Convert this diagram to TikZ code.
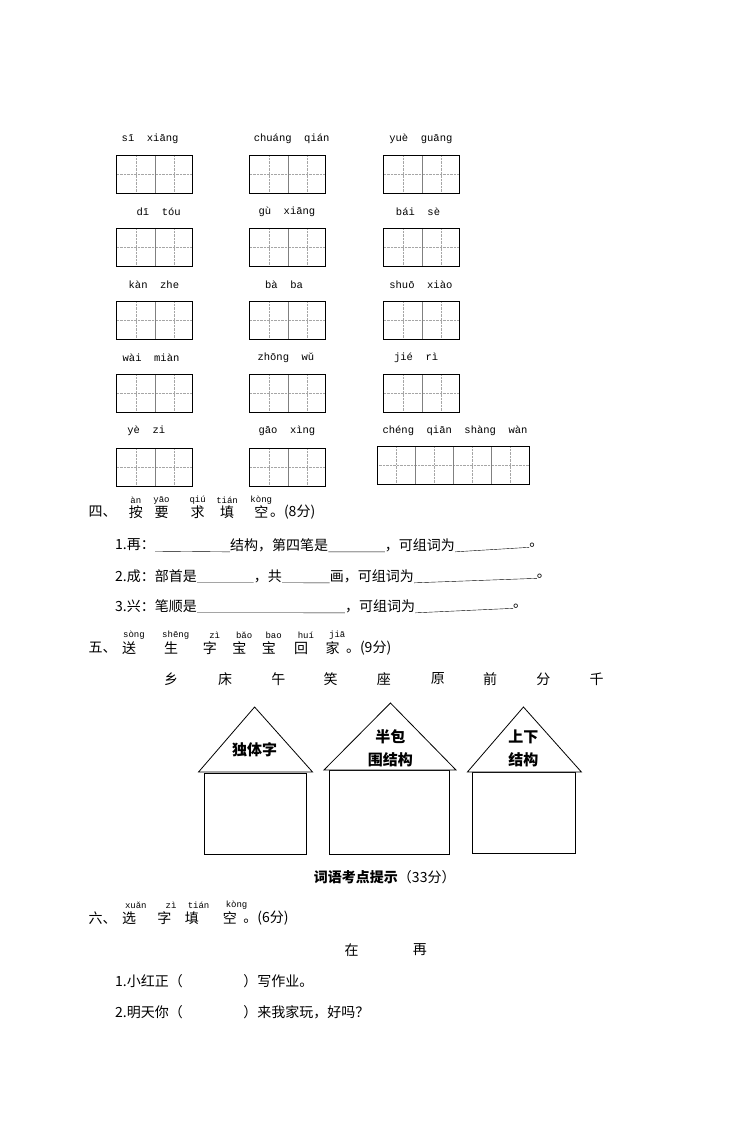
\documentclass[tikz,border=0pt]{standalone}
\usepackage{fontspec}
\usepackage{tikz}
\newfontfamily\cjk{Noto Sans CJK SC}
\newfontfamily\py{Liberation Mono}
\newcommand{\tzg}[3]{% x, y, cells
  \draw[gray!70, densely dotted] (#1,#2+19)--++(40*#3,0);
  \foreach \k in {1,...,#3}{
    \draw[gray!70, densely dotted] (#1+40*\k-20,#2)--++(0,38);
  }
  \foreach \k in {1,...,#3}{
    \ifnum\k<#3 \draw[gray] (#1+40*\k,#2)--++(0,38);\fi
  }
  \draw[black, thick] (#1,#2) rectangle ++(40*#3,38);
}
\begin{document}
\begin{tikzpicture}[x=0.95pt,y=-1pt,
  txt/.style={inner sep=0pt, anchor=west, font=\cjk\fontsize{14}{14}\selectfont},
  pin/.style={inner sep=0pt, font=\py\fontsize{10.5}{10.5}\selectfont},
  roof/.style={draw=black, thick, fill=white},
  wall/.style={draw=black, thick}]

\useasboundingbox (0,0) rectangle (794,1123);

% tianzige
\foreach \row in {155,228,301,374}{
  \tzg{123}{\row}{2}
  \tzg{263}{\row}{2}
  \tzg{404}{\row}{2}
}
\tzg{123}{448}{2}
\tzg{263}{448}{2}
\tzg{397}{446}{4}

\node[pin] (p_11) at (158,139) {sī~~xiāng};
\node[pin] (p_12) at (307,139) {chuáng~~qián};
\node[pin] (p_13) at (443,139) {yuè~~guāng};
\node[pin] (p_21) at (167,212) {dī~~tóu};
\node[pin] (p_22) at (302,212) {gù~~xiāng};
\node[pin] (p_23) at (440,212) {bái~~sè};
\node[pin] (p_31) at (162,285) {kàn~~zhe};
\node[pin] (p_32) at (299,285) {bà~~ba};
\node[pin] (p_33) at (443,285) {shuō~~xiào};
\node[pin] (p_41) at (159,358) {wài~~miàn};
\node[pin] (p_42) at (301,358) {zhōng~~wǔ};
\node[pin] (p_43) at (438,358) {jié~~rì};
\node[pin] (p_51) at (154,431) {yè~~zi};
\node[pin] (p_52) at (302,431) {gāo~~xìng};
\node[pin] (p_53) at (479,431) {chéng~~qiān~~shàng~~wàn};

% part four
\node[txt] (h4) at (93,512) {四、};
\foreach \c/\x/\p in {按/136/àn, 要/163/yāo, 求/201/qiú, 填/232/tián, 空/268/kòng}{
  \node[txt, anchor=center] (h4_\x) at (\x+7,512) {\c};
  \node[pin, font=\py\fontsize{9}{9}\selectfont] (h4p_\x) at (\x+7,500) {\p};
}
\node[txt] (h4e) at (284,512) {。(8分)};

\node[txt] (q1a) at (121,545) {1.再：};
\node[txt] (q1b) at (242,545) {结构，第四笔是};
\node[txt] (q1c) at (405,545) {，可组词为};
\node[txt] (q1d) at (557,545) {。};
\draw (q1a.south east) -- (q1b.south west);
\draw (q1b.south east) -- (q1c.south west);
\draw (q1c.south east) -- (q1d.south west);

\node[txt] (q2a) at (121,576) {2.成：部首是};
\node[txt] (q2b) at (267,576) {，共};
\node[txt] (q2c) at (347,576) {画，可组词为};
\node[txt] (q2d) at (565,576) {。};
\draw (q2a.south east) -- (q2b.south west);
\draw (q2b.south east) -- (q2c.south west);
\draw (q2c.south east) -- (q2d.south west);

\node[txt] (q3a) at (121,606) {3.兴：笔顺是};
\node[txt] (q3b) at (363,606) {，可组词为};
\node[txt] (q3c) at (540,606) {。};
\draw (q3a.south east) -- (q3b.south west);
\draw (q3b.south east) -- (q3c.south west);

% part five
\node[txt] (h5) at (93,648) {五、};
\foreach \c/\x/\p in {送/136/sòng, 生/180/shēng, 字/221/zì, 宝/252/bǎo, 宝/283/bao, 回/317/huí, 家/350/jiā}{
  \node[txt, anchor=center] (h5_\x) at (\x,648) {\c};
  \node[pin, font=\py\fontsize{9}{9}\selectfont] (h5p_\x) at (\x+5,635) {\p};
}
\node[txt] (h5e) at (364,648) {。(9分)};

\foreach \c/\x in {乡/180, 床/237, 午/293, 笑/348, 座/404, 原/461, 前/516, 分/572, 千/628}{
  \node[txt, anchor=center] (ch_\x) at (\x,679) {\c};
}

% houses
\draw[wall] (215,773) rectangle (323,854);
\draw[roof] (209,772) -- (268,707) -- (329,772) -- cycle;
\node[txt, anchor=center, font=\cjk\bfseries\fontsize{15}{15}\selectfont] (house_1) at (268,750) {独体字};

\draw[wall] (347,770) rectangle (473,854);
\draw[roof] (341,770) -- (411,703) -- (480,770) -- cycle;
\node[txt, anchor=center, align=center, font=\cjk\bfseries\fontsize{15}{23}\selectfont] (house_2) at (411,748) {半包\\围结构};

\draw[wall] (497,772) rectangle (606,853);
\draw[roof] (492,772) -- (551,707) -- (612,772) -- cycle;
\node[txt, anchor=center, align=center, font=\cjk\bfseries\fontsize{15}{23}\selectfont] (house_3) at (551,748) {上下\\结构};

\node[txt, anchor=center] (tip) at (405,877) {\textbf{词语考点提示}（33分）};

% part six
\node[txt] (h6) at (93,918) {六、};
\foreach \c/\x/\p in {选/136/xuǎn, 字/173/zì, 填/202/tián, 空/242/kòng}{
  \node[txt, anchor=center] (h6_\x) at (\x,918) {\c};
  \node[pin, font=\py\fontsize{9}{9}\selectfont] (h6p_\x) at (\x+7,905) {\p};
}
\node[txt] (h6e) at (256,918) {。(6分)};

\node[txt, anchor=center] (w_zai) at (370,950) {在};
\node[txt, anchor=center] (w_re) at (442,950) {再};

\node[txt] (s1a) at (121,981) {1.小红正（};
\node[txt] (s1b) at (256,981) {）写作业。};
\node[txt] (s2a) at (121,1012) {2.明天你（};
\node[txt] (s2b) at (256,1012) {）来我家玩，好吗？};

\end{tikzpicture}
\end{document}
